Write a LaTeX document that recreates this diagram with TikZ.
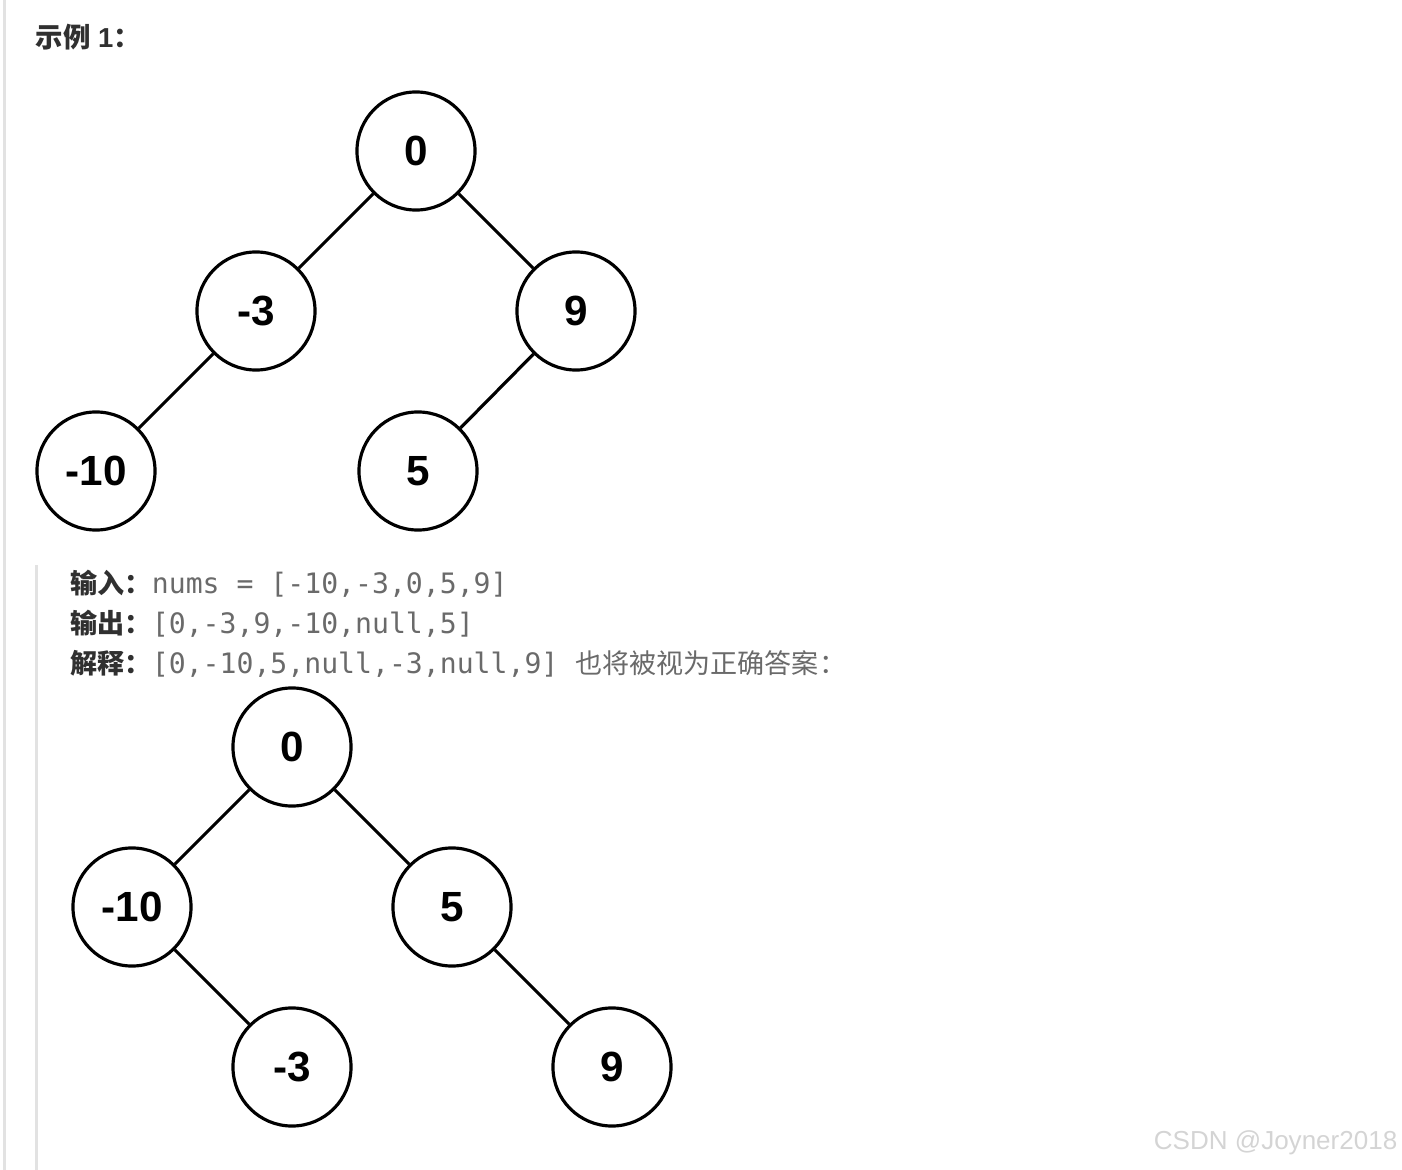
\documentclass[tikz,border=0pt]{standalone}
\usepackage{fontspec}
\setmainfont{Liberation Sans}
\setmonofont{DejaVu Sans Mono}
\newfontfamily\cjk{Noto Sans CJK SC}
\definecolor{bartone}{HTML}{E2E2E2}
\definecolor{labtone}{HTML}{303030}
\definecolor{codetone}{HTML}{6A6A6A}
\definecolor{marktone}{HTML}{D4D4D4}
\tikzset{
  treenode/.style={circle,draw=black,line width=0.9pt,minimum size=1.18cm,inner sep=0pt,
    font=\fontsize{12}{12}\selectfont\bfseries},
  treeedge/.style={line width=0.9pt},
  textline/.style={anchor=west,inner sep=0pt,font=\fontsize{7.7}{9}\selectfont}
}
\begin{document}
\begin{tikzpicture}[x=0.01cm,y=-0.01cm]
  \useasboundingbox (0,0) rectangle (1402,1170);
  \fill[bartone] (3,0) rectangle (6,1170);
  \fill[bartone] (35,565) rectangle (38,1170);
  \node[textline,font=\fontsize{7.8}{9}\selectfont\bfseries,text=labtone] (title) at (35,37) {{\cjk 示例} 1{\cjk ：}};
  % first tree
  \node[treenode] (a0) at (416,151) {0};
  \node[treenode] (a3) at (256,311) {-3};
  \node[treenode] (a9) at (576,311) {9};
  \node[treenode] (a10) at (96,471) {-10};
  \node[treenode] (a5) at (418,471) {5};
  \foreach \u/\v in {a0/a3,a0/a9,a3/a10,a9/a5} \draw[treeedge] (\u) -- (\v);
  % example text
  \node[textline] (inp) at (70,584) {{\cjk\bfseries\color{labtone}输入：}{\ttfamily\fontsize{8}{9}\selectfont\color{codetone}nums = [-10,-3,0,5,9]}};
  \node[textline] (outp) at (70,624) {{\cjk\bfseries\color{labtone}输出：}{\ttfamily\fontsize{8}{9}\selectfont\color{codetone}[0,-3,9,-10,null,5]}};
  \node[textline] (expl) at (70,664) {{\cjk\bfseries\color{labtone}解释：}{\ttfamily\fontsize{8}{9}\selectfont\color{codetone}[0,-10,5,null,-3,null,9] }{\cjk\color{codetone}也将被视为正确答案：}};
  % second tree
  \node[treenode] (b0) at (292,747) {0};
  \node[treenode] (b10) at (132,907) {-10};
  \node[treenode] (b5) at (452,907) {5};
  \node[treenode] (b3) at (292,1067) {-3};
  \node[treenode] (b9) at (612,1067) {9};
  \foreach \u/\v in {b0/b10,b0/b5,b10/b3,b5/b9} \draw[treeedge] (\u) -- (\v);
  \node[anchor=east,inner sep=0pt,text=marktone,font=\fontsize{7.4}{9}\selectfont] (mark) at (1398,1143) {CSDN @Joyner2018};
\end{tikzpicture}
\end{document}
